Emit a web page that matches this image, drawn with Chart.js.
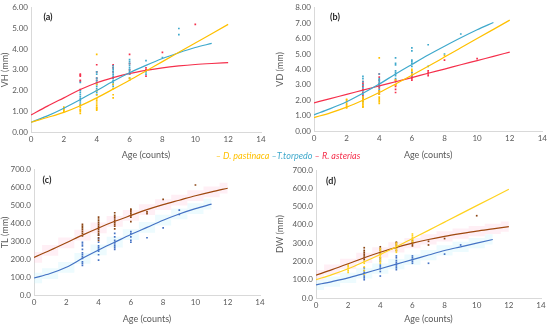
<!DOCTYPE html>
<html>
<head>
<meta charset="utf-8">
<script src="https://cdn.jsdelivr.net/npm/chart.js@4"></script>
<style>
  body { margin: 0; background: #fff; font-family: Lato, "Open Sans", sans-serif; }
  #wrap { position: relative; width: 550px; height: 324px; overflow: hidden; }
  canvas { position: absolute; }
  .lab { position: absolute; font-size: 9px; font-weight: bold; color: #262626; transform: translate(-50%, -50%); }
  #legend { position: absolute; left: 288px; top: 155px; transform: translate(-50%, -50%); font-size: 9px; font-style: italic; white-space: nowrap; }
</style>
</head>
<body>
<div id="wrap">
  <canvas id="ca" width="275" height="160" style="left:0;top:0"></canvas>
  <canvas id="cb" width="275" height="160" style="left:275px;top:0"></canvas>
  <canvas id="cc" width="275" height="162" style="left:0;top:162px"></canvas>
  <canvas id="cd" width="275" height="162" style="left:275px;top:162px"></canvas>
  <div class="lab" style="left:48px;top:16px">(a)</div>
  <div class="lab" style="left:335px;top:16px">(b)</div>
  <div class="lab" style="left:47px;top:179px">(c)</div>
  <div class="lab" style="left:331px;top:180px">(d)</div>
  <div id="legend"><span style="color:#FFC000">– D. pastinaca</span> <span style="color:#3FA9CC">–T.torpedo</span> <span style="color:#F5304C">– R. asterias</span></div>
</div>
<script>
// ages of the observed specimens (index of each sub-array below)
const ages = [2, 3, 4, 5, 6, 7, 8, 9, 10];
const fitAges = [0, 1, 2, 3, 4, 5, 6, 7, 8, 9, 10, 11, 12];

// (a) VH
const vhPastinaca = [[1.0,1.05,1.1,1.15,1.2],[0.9,1.0,1.05,1.1,1.2,1.3],[1.05,1.1,1.15,1.2,1.3,1.4,1.5,1.6,1.8,2.0,2.3,3.75],[1.65,1.8,2.1,2.3],[2.5,2.6],[],[],[],[]];
const vhTorpedo = [[],[1.3,1.4,1.5,1.6,1.7,1.8,1.9,2.0,2.4],[1.8,1.9,2.0,2.1,2.2,2.3,2.4,2.5,2.6,2.8,2.9],[2.2,2.3,2.4,2.5,2.6,2.7,2.8,2.9,3.0,3.1,3.2],[2.6,2.8,2.9,3.0,3.1,3.2,3.3,3.4,3.5],[2.8,2.9,3.45],[3.6],[4.7,5.0],[]];
const vhAsterias = [[],[2.05,2.45,2.5,2.7,2.75,2.8],[2.4,2.5,2.6,2.9,3.25],[2.6,2.9,3.1,3.2,3.25],[2.8,3.0,3.3,3.75],[2.7,3.0,3.1],[3.85],[],[5.2]];
const vhPastinacaFit = [0.47,0.7,0.95,1.27,1.65,2.07,2.5,2.95,3.4,3.85,4.3,4.75,5.2];
const vhTorpedoFit = [0.47,0.78,1.15,1.57,2.0,2.45,2.86,3.22,3.55,3.83,4.08,4.28];
const vhAsteriasFit = [0.82,1.25,1.65,2.05,2.38,2.63,2.83,2.98,3.1,3.19,3.26,3.31,3.35];

// (b) VD
const vdPastinaca = [[1.5,1.6,1.7,1.8,1.9,2.0,2.05],[1.55,1.6,1.7,1.8,1.9,2.0,2.1,2.2],[1.8,1.9,2.0,2.1,2.2,2.4,2.6,4.75],[3.0,3.3],[3.7,3.9,4.0],[],[4.9],[],[]];
const vdTorpedo = [[],[1.9,2.2,2.4,2.6,2.8,3.0,3.2,3.4,3.55],[2.5,2.7,2.9,3.0,3.1,3.2,3.3,3.4,3.7],[3.4,3.6,3.7,3.8,3.9,4.3,4.4,4.75],[3.6,3.8,4.2,4.4,4.5,4.6,5.2,5.4],[4.2,5.6],[5.0],[6.3],[]];
const vdAsterias = [[],[2.1,2.3,2.5,2.7,2.9,3.0,3.1,3.2],[2.4,2.6,2.8,2.9,3.0,3.1,3.3,3.5,3.7],[2.5,2.7,2.9,3.0,3.2,3.3],[3.3,3.4,3.5,3.6,3.8],[3.6,3.7,3.8,3.9],[4.6],[],[4.7]];
const vdPastinacaFit = [0.87,1.18,1.55,2.0,2.5,3.05,3.62,4.2,4.8,5.4,6.0,6.6,7.2];
const vdTorpedoFit = [1.05,1.45,1.9,2.45,3.05,3.7,4.32,4.93,5.5,6.05,6.57,7.05];
const vdAsteriasFit = [1.83,2.1,2.38,2.65,2.93,3.2,3.47,3.75,4.02,4.3,4.57,4.85,5.12];

// (c) TL
const tlBrown = [[],[330,345,355,365,375,385,395],[305,320,335,345,355,365,375,385,395,405,415,425,435],[370,385,395,405,415,425,435,445,460],[410,435,445,455,465,475,480],[455,465],[535],[],[615]];
const tlBlue = [[],[165,175,185,205,215,225,235,255,275,285,295],[195,225,245,255,265,275,295,315,335],[255,265,275,285,295,305,325,345],[295,305,325,345,355],[320],[375],[450,475],[]];
const tlBrownFit = [210,250,292,335,375,412,445,477,505,530,555,577,597];
const tlBlueFit = [95,120,155,205,252,295,338,378,418,453,483,508];

// (d) DW
const dwYellow = [[140,150,160,170,180],[130,150,170,190,200],[190,200,210,220,230,240,250,260,270],[250,260,270,280,290,300],[300,310,320,330,340,350],[],[],[],[]];
const dwBrown = [[],[210,220,230,240,250,260,275],[220,240,260,270,280],[260,275,290,300,305],[285,295,305,315],[290,310],[325],[],[450]];
const dwBlue = [[],[100,110,120,130,140,150,165],[120,145,160,170,180,200,210],[155,165,175,185,195,205,220,230],[190,200,210,220,230],[190],[240],[290],[]];
const dwYellowFit = [100,128,160,198,238,280,325,370,415,460,505,550,595];
const dwBrownFit = [125,155,187,220,250,277,300,320,337,352,366,378,390];
const dwBlueFit = [72,90,110,135,160,185,210,235,260,280,300,320];

const YELLOW = '#FFC000', TEAL = '#3FA9CC', RED = '#F5304C';
const BROWN = '#9E480E', BLUE = '#4472C4', LEMON = '#FFD21F';
const GREY = '#595959';

function pts(groups) {
    const out = [];
    groups.forEach((vals, i) => vals.forEach(v => out.push({ x: ages[i], y: v })));
    return out;
}
function curve(vals) {
    return vals.map((v, i) => ({ x: fitAges[i], y: v }));
}
function scatterSet(groups, color) {
    return { type: 'scatter', data: pts(groups), backgroundColor: color, borderColor: color,
             borderWidth: 0, pointRadius: 1.2, pointStyle: 'rect', order: 2 };
}
function lineSet(vals, color) {
    return { type: 'line', data: curve(vals), borderColor: color, borderWidth: 1.2,
             pointRadius: 0, fill: false, cubicInterpolationMode: 'monotone', order: 0 };
}
function bandSets(vals, half, color) {
    // faint shaded area around a fitted curve
    return [
        { type: 'line', data: vals.map((v, i) => ({ x: fitAges[i], y: v + half })), borderWidth: 0,
          pointRadius: 0, fill: false, stepped: 'middle', order: 5 },
        { type: 'line', data: vals.map((v, i) => ({ x: fitAges[i], y: v - half })), borderWidth: 0,
          pointRadius: 0, fill: '-1', backgroundColor: color, stepped: 'middle', order: 5 }
    ];
}

function makeChart(id, box, yTitle, yMax, yStep, decimals, datasets) {
    return new Chart(document.getElementById(id), {
        data: { datasets: datasets },
        options: {
            responsive: false,
            animation: false,
            layout: { padding: { top: box.top, right: box.right, left: 0, bottom: 0 } },
            plugins: { legend: { display: false }, tooltip: { enabled: false } },
            scales: {
                x: {
                    type: 'linear', min: 0, max: 14,
                    ticks: { stepSize: 2, color: GREY, font: { size: 8, family: 'Lato' }, padding: 3, maxRotation: 0 },
                    grid: { display: false, drawTicks: false },
                    border: { color: '#D9D9D9' },
                    title: { display: true, text: 'Age (counts)', color: GREY, font: { size: 9, family: 'Lato' }, padding: { top: 2, bottom: 0 } },
                    afterFit: a => { a.height = box.xh; }
                },
                y: {
                    min: 0, max: yMax,
                    ticks: { stepSize: yStep, color: GREY, font: { size: 8, family: 'Lato' }, padding: 3,
                             callback: v => v.toFixed(decimals) },
                    grid: { display: false, drawTicks: false },
                    border: { color: '#D9D9D9' },
                    title: { display: true, text: yTitle, color: GREY, font: { size: 9, family: 'Lato' }, padding: { top: 0, bottom: 1 } },
                    afterFit: a => { a.width = box.left; }
                }
            }
        }
    });
}

makeChart('ca', { top: 6, right: 14, left: 31, xh: 28 }, 'VH (mm)', 6, 1, 2, [
    lineSet(vhPastinacaFit, YELLOW), lineSet(vhTorpedoFit, TEAL), lineSet(vhAsteriasFit, RED),
    scatterSet(vhPastinaca, YELLOW), scatterSet(vhTorpedo, TEAL), scatterSet(vhAsterias, RED)
]);

makeChart('cb', { top: 6, right: 7, left: 39, xh: 29 }, 'VD (mm)', 8, 1, 2, [
    lineSet(vdPastinacaFit, YELLOW), lineSet(vdTorpedoFit, TEAL), lineSet(vdAsteriasFit, RED),
    scatterSet(vdPastinaca, YELLOW), scatterSet(vdTorpedo, TEAL), scatterSet(vdAsterias, RED)
]);

makeChart('cc', { top: 7, right: 15, left: 34, xh: 29 }, 'TL (mm)', 700, 100, 1, [
    ...bandSets(tlBrownFit, 30, 'rgba(255,190,215,0.25)'),
    ...bandSets(tlBlueFit, 30, 'rgba(190,240,250,0.28)'),
    lineSet(tlBrownFit, BROWN), lineSet(tlBlueFit, BLUE),
    scatterSet(tlBrown, '#8B4513'), scatterSet(tlBlue, BLUE)
]);

makeChart('cd', { top: 8, right: 9, left: 41, xh: 26 }, 'DW (mm)', 700, 100, 1, [
    ...bandSets(dwBrownFit, 28, 'rgba(255,190,215,0.25)'),
    ...bandSets(dwBlueFit, 28, 'rgba(190,240,250,0.28)'),
    lineSet(dwYellowFit, LEMON), lineSet(dwBrownFit, BROWN), lineSet(dwBlueFit, BLUE),
    scatterSet(dwYellow, LEMON), scatterSet(dwBrown, '#8B4513'), scatterSet(dwBlue, BLUE)
]);
</script>
</body>
</html>
